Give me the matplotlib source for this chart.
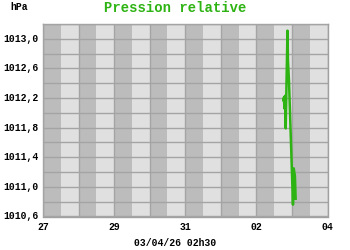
import numpy as np
import matplotlib
matplotlib.use("Agg")
import matplotlib.pyplot as plt

# time in hours after 02/04 00h, pressure in hPa
hours = [18.25, 18.6, 18.9, 19.3, 19.8, 20.3, 21.0, 21.3, 22.0, 23.3, 24.7, 25.2, 26.0, 26.5]
pression = [1012.17, 1012.21, 1012.06, 1012.23, 1011.79, 1012.37, 1013.11, 1012.71,
            1012.44, 1011.63, 1010.76, 1011.25, 1011.15, 1010.84]

day_ticks = [0, 2, 4, 6, 8]          # days after 27/03 00h
day_labels = ["27", "29", "31", "02", "04"]
y_ticks = [1010.6, 1011.0, 1011.4, 1011.8, 1012.2, 1012.6, 1013.0]

green = "#2db312"
mono = "Liberation Mono"

fig = plt.figure(figsize=(3.5, 2.5), dpi=100)
ax = fig.add_axes([43 / 350, 33.5 / 250, 284.5 / 350, 192.5 / 250])
ax.set_facecolor("#e0e0e0")

# dark half-day stripes
for d in range(8):
    ax.axvspan(d, d + 0.5, color="#bcbcbc", lw=0, zorder=0)

x = 6 + np.array(hours) / 24.0
ax.plot(x, pression, color=green, lw=1.8, zorder=3)

ax.set_xlim(0, 8)
ax.set_ylim(1010.6, 1013.2)
ax.set_xticks(range(9), minor=False)
ax.set_xticklabels(["" for _ in range(9)])
ax.set_yticks(np.arange(1010.6, 1013.21, 0.2))
ax.set_yticklabels(["" for _ in np.arange(1010.6, 1013.21, 0.2)])
ax.grid(True, color="#a4a4a4", lw=1.0, zorder=1)
ax.set_axisbelow(False)
ax.tick_params(length=0)
for s in ax.spines.values():
    s.set_color("#a0a0a0")
    s.set_linewidth(1.0)

for t, lab in zip(day_ticks, day_labels):
    ax.text(t, 1010.6 - 0.07, lab, ha="center", va="top", fontsize=7,
            family=mono, fontweight="bold")
for v in y_ticks:
    ax.text(-0.13, v, ("%.1f" % v).replace(".", ","), ha="right", va="center",
            fontsize=7, family=mono, fontweight="bold")

fig.text(10 / 350, 1 - 7 / 250, "hPa", ha="left", va="center", fontsize=7,
         family=mono, fontweight="bold")
fig.text(0.5, 1 - 8 / 250, "Pression relative", ha="center", va="center",
         fontsize=10, family=mono, fontweight="bold", color=green)
fig.text(175 / 350, 7 / 250, "03/04/26 02h30", ha="center", va="center",
         fontsize=7, family=mono, fontweight="bold")

fig.savefig("out.png", dpi=100, facecolor="white")
